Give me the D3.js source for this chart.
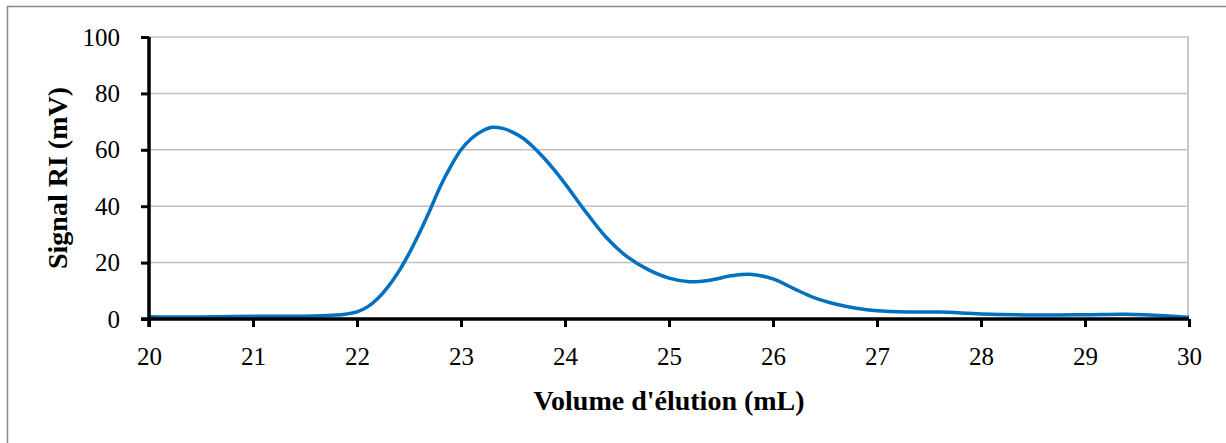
<!DOCTYPE html>
<html>
<head>
<meta charset="utf-8">
<script src="https://cdn.jsdelivr.net/npm/d3@7"></script>
<style>
  html, body { margin: 0; padding: 0; background: #fff; }
  svg { display: block; }
  text { font-family: "Liberation Serif", "Times New Roman", serif; fill: #000; }
</style>
</head>
<body>
<svg id="chart" width="1226" height="443"></svg>
<script>
// ---- data ----
const volume = [20.0, 20.4, 20.8, 21.2, 21.6, 21.8, 21.9, 22.0, 22.1, 22.2, 22.3, 22.4, 22.5, 22.6, 22.7, 22.8, 22.9,
  23.0, 23.1, 23.2, 23.3, 23.4, 23.5, 23.6, 23.7, 23.8, 23.9, 24.0, 24.2, 24.4, 24.6, 24.8, 25.0, 25.2, 25.4,
  25.6, 25.8, 26.0, 26.2, 26.4, 26.6, 26.8, 27.0, 27.3, 27.6, 28.0, 28.5, 29.0, 29.4, 29.8, 30.0];
const signal = [0.8, 0.7, 0.9, 1.0, 1.1, 1.4, 1.8, 2.5, 4.3, 7.3, 11.5, 16.8, 23.2, 30.5, 38.5, 46.9, 54.0,
  60.0, 64.0, 66.6, 68.0, 67.6, 66.2, 64.0, 60.8, 57.0, 52.7, 48.0, 38.0, 28.8, 22.0, 17.5, 14.5, 13.2, 13.8,
  15.3, 15.8, 14.2, 10.8, 7.5, 5.3, 3.8, 2.9, 2.5, 2.5, 1.8, 1.4, 1.5, 1.7, 1.1, 0.6];
const xTicks = [20, 21, 22, 23, 24, 25, 26, 27, 28, 29, 30];
const yTicks = [0, 20, 40, 60, 80, 100];
const xTitle = "Volume d'élution (mL)";
const yTitle = "Signal RI (mV)";

// ---- layout ----
const svg = d3.select("#chart");
const L = 149, R = 1189, T = 37, B = 319;
const x = d3.scaleLinear().domain([20, 30]).range([L, R]);
const y = d3.scaleLinear().domain([0, 100]).range([B, T]);

// outer border
svg.append("rect")
  .attr("x", 7.5).attr("y", 6.5).attr("width", 1240).attr("height", 460)
  .attr("fill", "none").attr("stroke", "#898989").attr("stroke-width", 1.5);

// gridlines
svg.append("g").selectAll("line").data(yTicks.filter(d => d > 0)).join("line")
  .attr("x1", L).attr("x2", R)
  .attr("y1", d => y(d)).attr("y2", d => y(d))
  .attr("stroke", "#c0c0c0").attr("stroke-width", 1.5);

// right plot border
svg.append("line")
  .attr("x1", R - 1).attr("x2", R - 1).attr("y1", T).attr("y2", B)
  .attr("stroke", "#c8c8c8").attr("stroke-width", 2);

// line
const line = d3.line().x((d, i) => x(volume[i])).y(d => y(d)).curve(d3.curveCatmullRom.alpha(0.5));
svg.append("path").datum(signal)
  .attr("d", line)
  .attr("fill", "none").attr("stroke", "#0070c0").attr("stroke-width", 3.5)
  .attr("stroke-linejoin", "round");

// axes
const xAxis = d3.axisBottom(x).tickValues(xTicks).tickFormat(d3.format("d")).tickSize(8).tickPadding(20);
const gx = svg.append("g").attr("transform", `translate(0,${B})`).call(xAxis);
gx.select(".domain").attr("stroke", "#000").attr("stroke-width", 3.5).attr("d", `M${L - 8},0H${R}`);
gx.selectAll(".tick line").attr("stroke", "#000").attr("stroke-width", 3);
gx.selectAll(".tick text").attr("font-size", 25).attr("font-family", "Liberation Serif, serif").attr("fill", "#000");

const yAxis = d3.axisLeft(y).tickValues(yTicks).tickFormat(d3.format("d")).tickSize(8).tickPadding(21);
const gy = svg.append("g").attr("transform", `translate(${L},0)`).call(yAxis);
gy.select(".domain").attr("stroke", "#000").attr("stroke-width", 3.5).attr("d", `M0,${T}V${B + 8}`);
gy.selectAll(".tick line").attr("stroke", "#000").attr("stroke-width", 3);
gy.selectAll(".tick text").attr("font-size", 25).attr("font-family", "Liberation Serif, serif").attr("fill", "#000");

// titles
svg.append("text")
  .attr("x", (L + R) / 2).attr("y", 410)
  .attr("text-anchor", "middle").attr("font-size", 28).attr("font-weight", "bold")
  .text(xTitle);
svg.append("text")
  .attr("transform", `translate(67,178) rotate(-90)`)
  .attr("text-anchor", "middle").attr("font-size", 28).attr("font-weight", "bold")
  .text(yTitle);
</script>
</body>
</html>
